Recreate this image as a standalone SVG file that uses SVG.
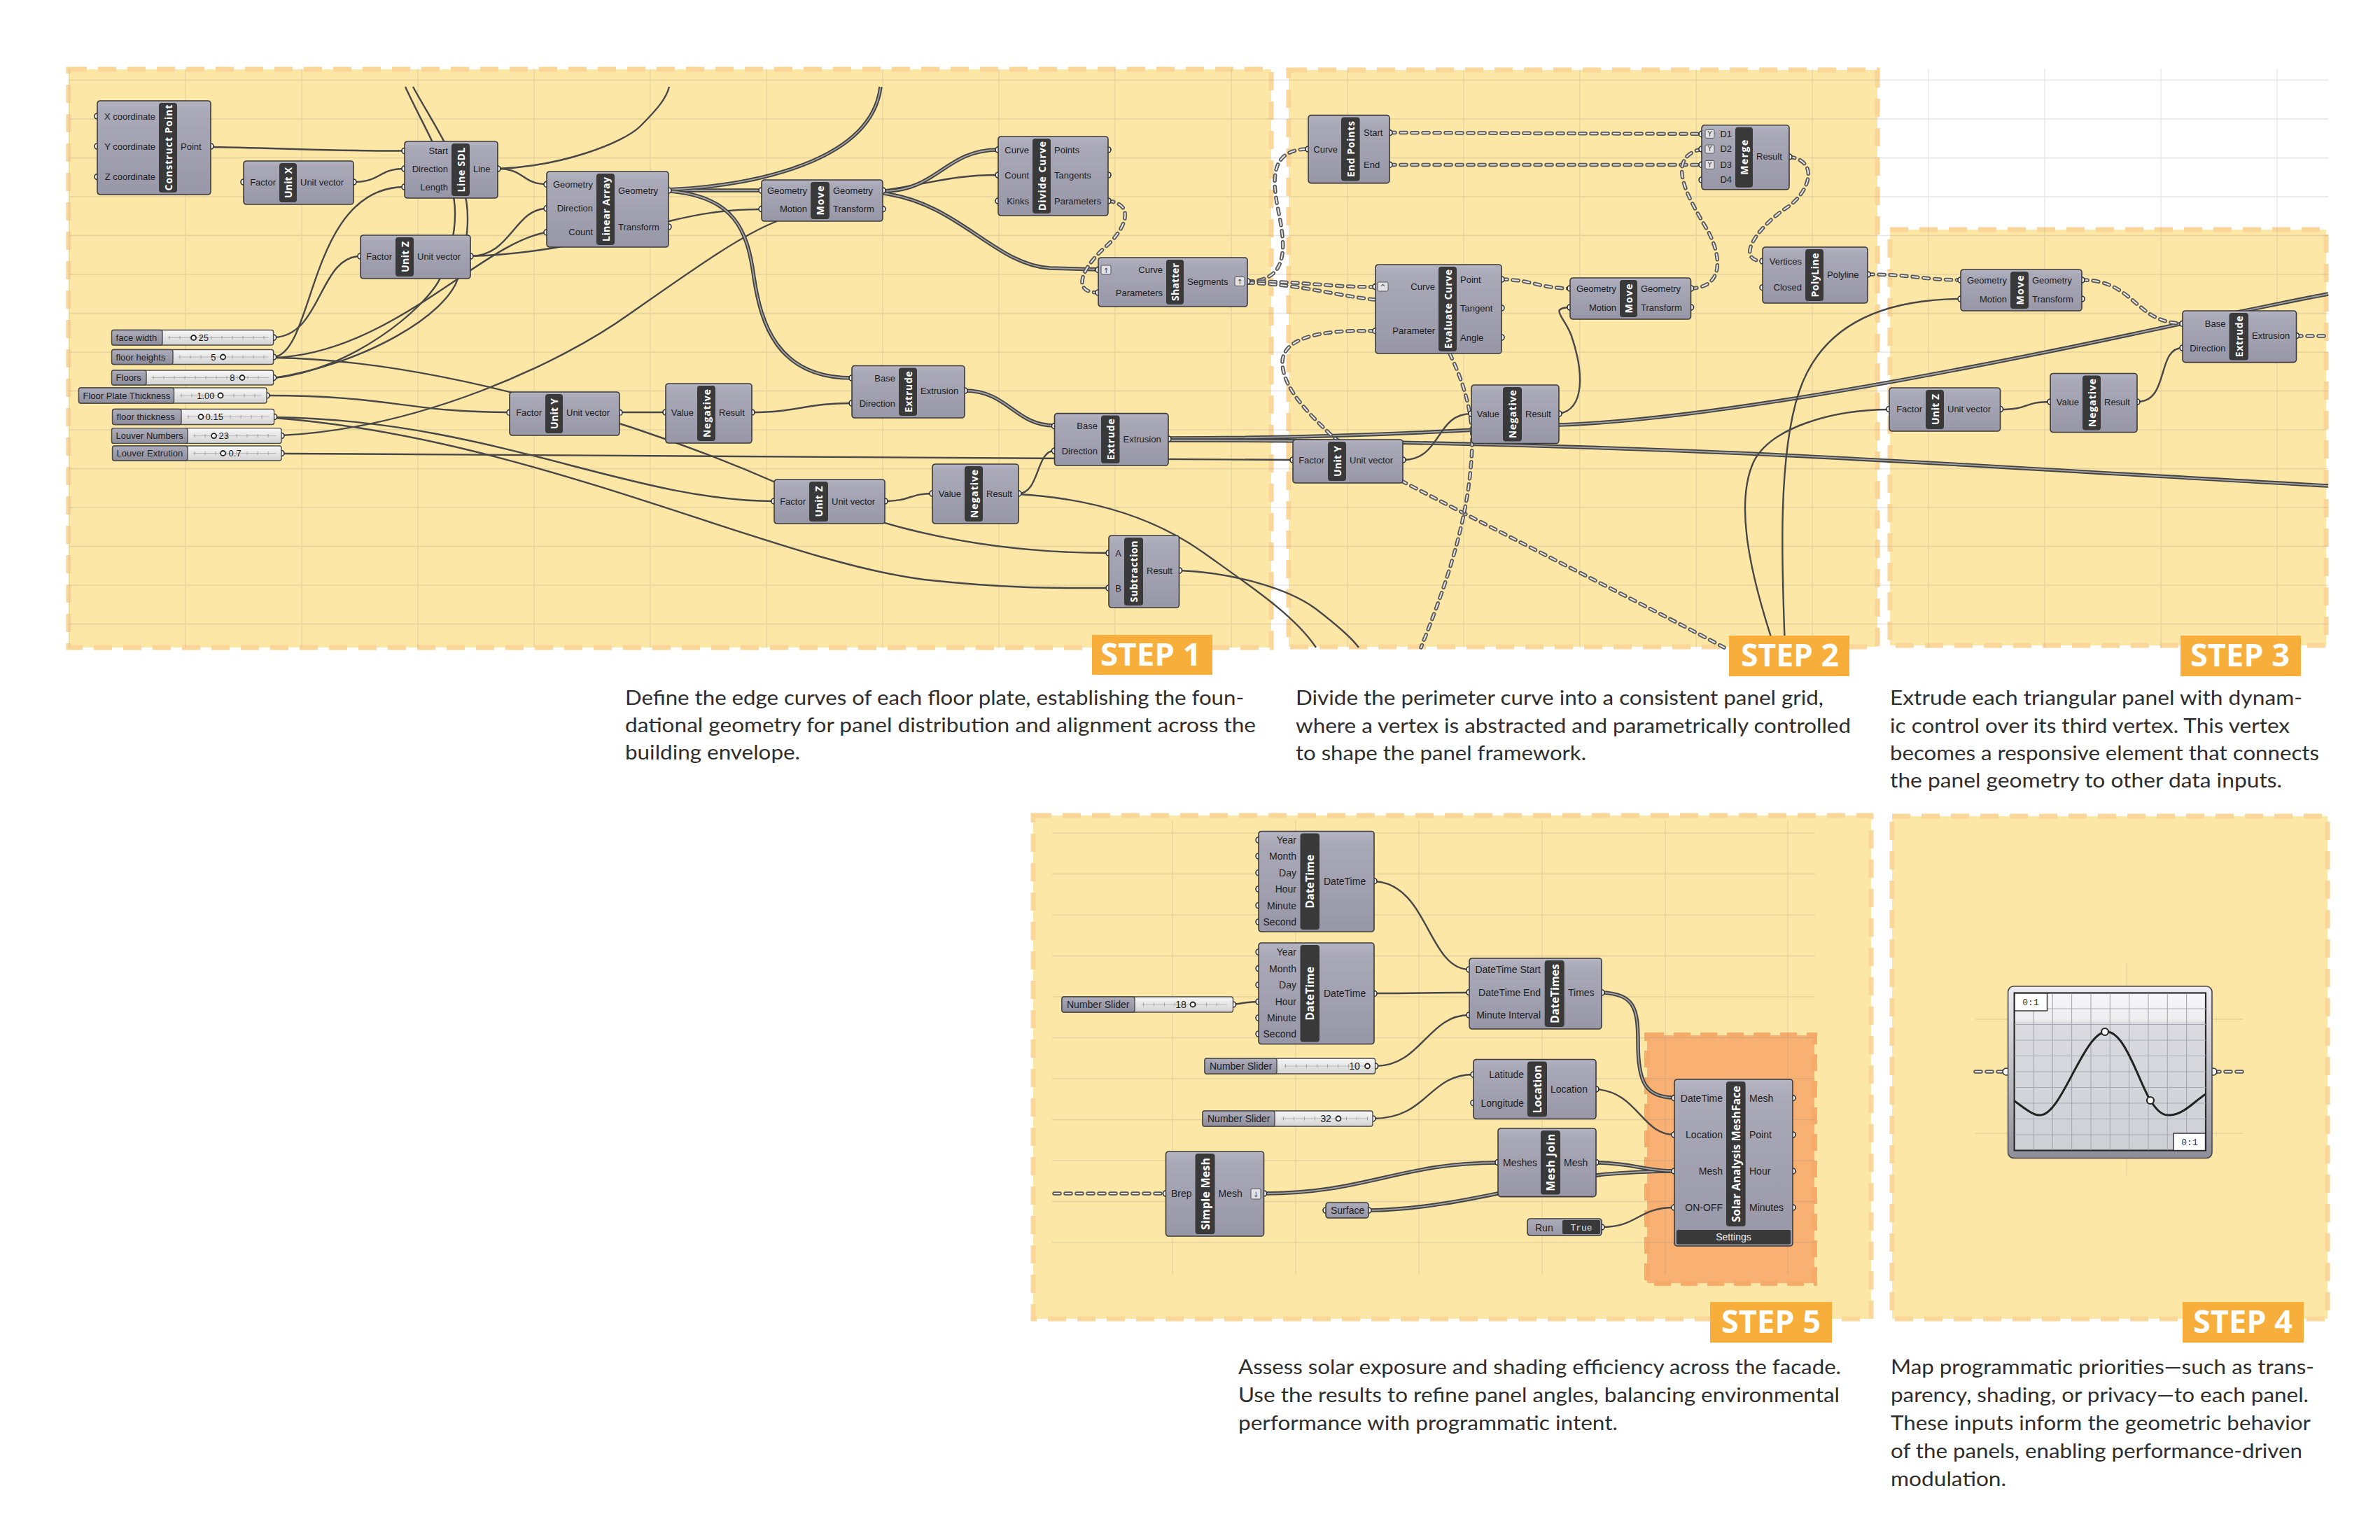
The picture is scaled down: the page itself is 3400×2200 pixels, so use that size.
<svg xmlns="http://www.w3.org/2000/svg" width="3400" height="2200" viewBox="0 0 3400 2200">
<defs>
<linearGradient id="gN" x1="0" y1="0" x2="0" y2="1"><stop offset="0" stop-color="#b4b4c2"/><stop offset="0.12" stop-color="#a9a9b8"/><stop offset="1" stop-color="#9797a7"/></linearGradient>
<linearGradient id="gS" x1="0" y1="0" x2="0" y2="1"><stop offset="0" stop-color="#adadbb"/><stop offset="1" stop-color="#8d8d9c"/></linearGradient>
<linearGradient id="gT" x1="0" y1="0" x2="0" y2="1"><stop offset="0" stop-color="#f8f8f8"/><stop offset="1" stop-color="#d3d3d3"/></linearGradient>
<linearGradient id="gG" x1="0" y1="0" x2="0" y2="1"><stop offset="0" stop-color="#ececf0"/><stop offset="1" stop-color="#8f8f9b"/></linearGradient>
<linearGradient id="gGi" x1="0" y1="0" x2="0" y2="1"><stop offset="0" stop-color="#f7f7f9"/><stop offset="0.17" stop-color="#eeeef1"/><stop offset="0.19" stop-color="#dadae0"/><stop offset="1" stop-color="#cfcfd6"/></linearGradient>
<style>
.pan{fill:#fde7a6;stroke:#fbd699;stroke-width:7;stroke-dasharray:26 16}
.pano{fill:#f8b073;stroke:#f7ab6a;stroke-width:8;stroke-dasharray:24 14}
.grid{fill:none;stroke:#8c8c8c;stroke-opacity:0.22;stroke-width:1.3}
.n{fill:url(#gN);stroke:#3b3b3b;stroke-width:1.6}
.b{fill:#393939}
.bt{font-family:"Open Sans","DejaVu Sans",sans-serif;font-weight:700;font-size:14px;fill:#fff;text-anchor:middle;dominant-baseline:central}
.bt5{font-size:16px}
.l{font-family:"Liberation Sans",Arial,sans-serif;font-size:13px;fill:#1c1c1c}
.l5{font-size:14px}
.le{text-anchor:end}
.p{fill:#fff;stroke:#2e2e2e;stroke-width:1.6}
.w{fill:none;stroke:#474747;stroke-width:2.4}
.wd{fill:none;stroke:#434343;stroke-width:5.5}
.wdi{fill:none;stroke:#a2a2a2;stroke-width:1.8}
.dd{fill:none;stroke:#565656;stroke-width:5.5;stroke-dasharray:8 8;stroke-linecap:round}
.ddi{fill:none;stroke:#e6e6e6;stroke-width:2;stroke-dasharray:8 8;stroke-linecap:round}
.st{fill:url(#gT);stroke:#4a4a4a;stroke-width:1.4}
.sn{fill:url(#gS);stroke:#4a4a4a;stroke-width:1.4}
.tb{stroke:#b5b5b5;stroke-width:1}
.tk{stroke:#a0a0a0;stroke-width:5;stroke-dasharray:1 14}
.kn{fill:#fff;stroke:#222;stroke-width:1.8}
.ic{fill:#e2e2e6;stroke:#555;stroke-width:1}
.it{font-family:"DejaVu Sans",sans-serif;font-size:10px;fill:#444;text-anchor:middle}
.stepb{fill:#f7ae3b}
.stept{font-family:"Open Sans","DejaVu Sans",sans-serif;font-weight:700;font-size:44px;fill:#fff;text-anchor:middle}
.desc{font-family:Lato,"Open Sans",sans-serif;font-size:29px;fill:#2e2e2e}
.mono{font-family:"Liberation Mono","DejaVu Sans Mono",monospace;font-size:13px;fill:#333}
</style>
</defs>
<rect width="3400" height="2200" fill="#ffffff"/>

<g id="panels">
<rect class="pan" x="98" y="99" width="1718" height="826"/>
<rect class="pan" x="1841" y="100" width="841" height="824"/>
<rect class="pan" x="2700" y="328" width="623" height="594"/>
<rect class="pan" x="1476" y="1165" width="1197" height="719"/>
<rect class="pan" x="2703" y="1166" width="622" height="718"/>
<rect class="pano" x="2353" y="1479" width="239" height="354"/>
</g>

<g id="grid">
<path class="grid" d="M99,98V926M265,98V926M431,98V926M597,98V926M763,98V926M929,98V926M1095,98V926M1261,98V926M1427,98V926M1593,98V926M1759,98V926M1925,98V926M2091,98V926M2257,98V926M2423,98V926M2589,98V926M2755,98V926M2921,98V926M3087,98V926M3253,98V926M98,114.5H3326M98,170H3326M98,225.5H3326M98,281H3326M98,336.5H3326M98,392H3326M98,447.5H3326M98,503H3326M98,558.5H3326M98,614H3326M98,669.5H3326M98,725H3326M98,780.5H3326M98,836H3326M98,891.5H3326"/>
<path class="grid" d="M1675,1172V1821M1851,1172V1821M2027,1172V1821M2203,1172V1821M2379,1172V1821M2554,1172V1821M1503,1190H2593M1503,1248.5H2593M1503,1307H2593M1503,1365.5H2593M1503,1424H2593M1503,1482.5H2593M1503,1541H2593M1503,1599.5H2593M1503,1658H2593M1503,1716.5H2593M1503,1775H2593"/>
<path class="grid" d="M2822,1456H3204M2822,1619H3204M3038,1376V1679" stroke-opacity="0.35"/>
</g>

<g id="connectors">
<path class="w" d="M301,210 C420,212 480,216 578,215.5"/>
<path class="w" d="M505,260 C545,260 540,241 578,241"/>
<path class="w" d="M391,482 C460,480 455,366 515,366"/>
<path class="w" d="M391,510 C450,505 440,268 578,267"/>
<path class="w" d="M391,511 C560,505 690,345 781,332"/>
<path class="w" d="M391,540 C500,530 610,440 630,395 C650,350 655,300 645,270 C630,220 600,170 579,124"/>
<path class="w" d="M391,540 C520,520 640,450 655,395 C670,340 672,300 662,270 C650,220 615,170 590,124"/>
<path class="w" d="M711,241 C750,241 745,263 781,263"/>
<path class="w" d="M711,241 C800,238 890,205 915,180 C940,155 952,140 956,124"/>
<path class="w" d="M672,366 C730,366 735,298 781,298"/>
<path class="w" d="M672,366 C800,362 900,330 960,315 C1010,303 1045,299 1088,299"/>
<path class="w" d="M402,622 C600,612 800,520 900,448 C990,385 1060,335 1110,316"/>
<path class="w" d="M1261,272 C1330,262 1360,250 1426,250"/>
<path class="w" d="M381,565 C560,565 580,589 728,589"/>
<path class="w" d="M391,511 C650,515 950,620 1110,690 C1200,730 1350,790 1584,790"/>
<path class="w" d="M392,596 C700,600 900,716 1106,716"/>
<path class="w" d="M392,597 C760,625 1100,800 1320,828 C1450,842 1520,840 1584,840"/>
<path class="w" d="M402,648 C900,650 1400,655 1847,657"/>
<path class="w" d="M885,589 L951,589"/>
<path class="w" d="M1074,589 C1140,589 1150,576 1217,576"/>
<path class="w" d="M1264,716 C1300,716 1300,705 1332,705"/>
<path class="w" d="M1455,705 C1485,705 1480,644 1506,644"/>
<path class="w" d="M1455,706 C1560,712 1650,740 1720,790 C1790,840 1850,880 1880,925"/>
<path class="w" d="M1685,815 C1760,818 1840,840 1880,870 C1910,893 1930,910 1941,925"/>
<path class="wd" d="M955,272 L1088,272"/><path class="wdi" d="M955,272 L1088,272"/>
<path class="wd" d="M955,271 C1080,265 1245,230 1258,124"/><path class="wdi" d="M955,271 C1080,265 1245,230 1258,124"/>
<path class="wd" d="M955,273 C1050,280 1068,330 1077,396 C1087,462 1110,540 1217,540"/><path class="wdi" d="M955,273 C1050,280 1068,330 1077,396 C1087,462 1110,540 1217,540"/>
<path class="wd" d="M1261,273 C1340,273 1350,214 1426,214"/><path class="wdi" d="M1261,273 C1340,273 1350,214 1426,214"/>
<path class="wd" d="M1261,276 C1370,290 1420,378 1500,383 L1569,385"/><path class="wdi" d="M1261,276 C1370,290 1420,378 1500,383 L1569,385"/>
<path class="wd" d="M1378,558 C1440,558 1450,608 1506,608"/><path class="wdi" d="M1378,558 C1440,558 1450,608 1506,608"/>
<path class="wd" d="M1669,626 C1800,626 2000,622 2227,607 C2450,600 2850,520 3118,462"/><path class="wdi" d="M1669,626 C1800,626 2000,622 2227,607 C2450,600 2850,520 3118,462"/>
<path class="wd" d="M1669,629 C1900,629 2200,635 2500,648 C2800,662 3100,682 3326,694"/><path class="wdi" d="M1669,629 C1900,629 2200,635 2500,648 C2800,662 3100,682 3326,694"/>
<path class="wd" d="M3150,455 C3220,442 3280,428 3326,420"/><path class="wdi" d="M3150,455 C3220,442 3280,428 3326,420"/>
<path class="dd" d="M1583,287 C1625,292 1605,330 1580,352 C1548,380 1528,418 1569,418"/><path class="ddi" d="M1583,287 C1625,292 1605,330 1580,352 C1548,380 1528,418 1569,418"/>
<path class="dd" d="M1782,402 C1845,402 1835,345 1826,300 C1817,255 1815,213 1869,213"/><path class="ddi" d="M1782,402 C1845,402 1835,345 1826,300 C1817,255 1815,213 1869,213"/>
<path class="dd" d="M1782,402 C1860,402 1900,410 1965,410"/><path class="ddi" d="M1782,402 C1860,402 1900,410 1965,410"/>
<path class="dd" d="M1782,404 C1860,406 1920,425 1966,428"/><path class="ddi" d="M1782,404 C1860,406 1920,425 1966,428"/>
<path class="dd" d="M1965,473 C1880,470 1830,485 1832,520 C1834,560 1880,600 1905,625 L2004,688 C2200,790 2380,880 2463,925"/><path class="ddi" d="M1965,473 C1880,470 1830,485 1832,520 C1834,560 1880,600 1905,625 L2004,688 C2200,790 2380,880 2463,925"/>
<path class="dd" d="M2071,505 C2090,545 2103,585 2103,630 C2102,740 2060,850 2030,925"/><path class="ddi" d="M2071,505 C2090,545 2103,585 2103,630 C2102,740 2060,850 2030,925"/>
<path class="dd" d="M1985,189.5 L2431,191.4"/><path class="ddi" d="M1985,189.5 L2431,191.4"/>
<path class="dd" d="M1985,235.4 L2431,235.4"/><path class="ddi" d="M1985,235.4 L2431,235.4"/>
<path class="dd" d="M2416,412 C2462,410 2460,368 2440,330 C2410,280 2378,225 2431,213"/><path class="ddi" d="M2416,412 C2462,410 2460,368 2440,330 C2410,280 2378,225 2431,213"/>
<path class="dd" d="M2145,399 C2190,400 2200,412 2243,412"/><path class="ddi" d="M2145,399 C2190,400 2200,412 2243,412"/>
<path class="dd" d="M2556,224 C2600,230 2585,275 2552,297 C2510,325 2478,372 2518,373"/><path class="ddi" d="M2556,224 C2600,230 2585,275 2552,297 C2510,325 2478,372 2518,373"/>
<path class="dd" d="M2668,392 C2730,392 2750,400 2801,400"/><path class="ddi" d="M2668,392 C2730,392 2750,400 2801,400"/>
<path class="dd" d="M2974,400 C3050,400 3050,462 3118,462"/><path class="ddi" d="M2974,400 C3050,400 3050,462 3118,462"/>
<path class="dd" d="M3280,480 L3324,480"/><path class="ddi" d="M3280,480 L3324,480"/>
<path class="w" d="M2227,591 C2265,585 2262,530 2245,480 C2235,452 2212,440 2243,439"/>
<path class="w" d="M2004,657 C2060,657 2050,591 2102,591"/>
<path class="w" d="M2535,925 C2500,820 2478,720 2505,660 C2530,610 2620,585 2699,585"/>
<path class="w" d="M2550,925 C2545,800 2540,650 2570,560 C2600,470 2680,428 2801,427"/>
<path class="w" d="M2857,585 C2900,585 2890,574 2929,574"/>
<path class="w" d="M3053,574 C3100,574 3080,497 3118,497"/>
<path class="w" d="M1963,1259 C2040,1262 2040,1385 2099,1385"/>
<path class="w" d="M1963,1419 C2030,1419 2040,1418 2099,1418"/>
<path class="w" d="M1761,1435 C1780,1433 1780,1431 1798,1431"/>
<path class="w" d="M1965,1523 C2030,1523 2040,1450 2099,1450"/>
<path class="w" d="M1961,1598 C2040,1598 2040,1535 2105,1535"/>
<path class="w" d="M2280,1556 C2340,1560 2345,1621 2392,1621"/>
<path class="w" d="M2288,1753 C2340,1753 2340,1725 2392,1725"/>
<path class="wd" d="M2288,1418 C2335,1420 2340,1440 2340,1490 C2340,1545 2350,1568 2392,1568"/><path class="wdi" d="M2288,1418 C2335,1420 2340,1440 2340,1490 C2340,1545 2350,1568 2392,1568"/>
<path class="wd" d="M1806,1705 C1950,1705 2000,1661 2140,1661"/><path class="wdi" d="M1806,1705 C1950,1705 2000,1661 2140,1661"/>
<path class="wd" d="M1955,1729 C2080,1728 2200,1685 2300,1677 C2340,1674 2360,1673 2392,1673"/><path class="wdi" d="M1955,1729 C2080,1728 2200,1685 2300,1677 C2340,1674 2360,1673 2392,1673"/>
<path class="wd" d="M2280,1661 C2330,1661 2350,1673 2392,1673"/><path class="wdi" d="M2280,1661 C2330,1661 2350,1673 2392,1673"/>
<path class="dd" d="M1506,1705 L1665,1705"/><path class="ddi" d="M1506,1705 L1665,1705"/>
<path class="dd" d="M2822,1531 L2865,1531"/><path class="ddi" d="M2822,1531 L2865,1531"/>
<path class="dd" d="M3163,1531 L3204,1531"/><path class="ddi" d="M3163,1531 L3204,1531"/>
</g>

<g id="nodes">
<g id="construct-point" transform="translate(139,144)">
<circle class="p" cx="0" cy="22" r="4"/><circle class="p" cx="0" cy="65" r="4"/><circle class="p" cx="0" cy="108.6" r="4"/><circle class="p" cx="162" cy="65" r="4"/>
<rect class="n" width="162" height="134" rx="4"/><rect class="b" x="88" y="3" width="26" height="128" rx="4"/>
<text class="bt" transform="translate(101,67) rotate(-90)" textLength="123">Construct Point</text>
<text class="l le" x="83" y="26.5">X coordinate</text><text class="l le" x="83" y="69.5">Y coordinate</text><text class="l le" x="83" y="113">Z coordinate</text>
<text class="l" x="119" y="69.5">Point</text>
</g>
<g id="unit-x" transform="translate(348,230)">
<circle class="p" cx="0" cy="30" r="4"/><circle class="p" cx="157" cy="30" r="4"/>
<rect class="n" width="157" height="62" rx="4"/><rect class="b" x="51" y="3" width="25" height="56" rx="4"/>
<text class="bt" transform="translate(63.5,31) rotate(-90)" textLength="44">Unit X</text>
<text class="l le" x="46" y="34.5">Factor</text><text class="l" x="81" y="34.5">Unit vector</text>
</g>
<g id="line-sdl" transform="translate(578,202)">
<circle class="p" cx="0" cy="13.5" r="4"/><circle class="p" cx="0" cy="39" r="4"/><circle class="p" cx="0" cy="65" r="4"/><circle class="p" cx="133" cy="39" r="4"/>
<rect class="n" width="133" height="81" rx="4"/><rect class="b" x="67" y="3" width="26" height="75" rx="4"/>
<text class="bt" transform="translate(80,40.5) rotate(-90)" textLength="64">Line SDL</text>
<text class="l le" x="62" y="18">Start</text><text class="l le" x="62" y="43.5">Direction</text><text class="l le" x="62" y="69.5">Length</text>
<text class="l" x="98" y="43.5">Line</text>
</g>
<g id="linear-array" transform="translate(781,245)">
<circle class="p" cx="0" cy="18.4" r="4"/><circle class="p" cx="0" cy="52.8" r="4"/><circle class="p" cx="0" cy="86.9" r="4"/><circle class="p" cx="174" cy="27" r="4"/><circle class="p" cx="174" cy="79" r="4"/>
<rect class="n" width="174" height="108" rx="4"/><rect class="b" x="71" y="3" width="26" height="102" rx="4"/>
<text class="bt" transform="translate(84,54) rotate(-90)" textLength="92">Linear Array</text>
<text class="l le" x="66" y="23">Geometry</text><text class="l le" x="66" y="57.3">Direction</text><text class="l le" x="66" y="91.4">Count</text>
<text class="l" x="102" y="31.5">Geometry</text><text class="l" x="102" y="83.5">Transform</text>
</g>
<g id="unit-z-1" transform="translate(515,336)">
<circle class="p" cx="0" cy="30" r="4"/><circle class="p" cx="157" cy="30" r="4"/>
<rect class="n" width="157" height="62" rx="4"/><rect class="b" x="50" y="3" width="26" height="56" rx="4"/>
<text class="bt" transform="translate(63,31) rotate(-90)" textLength="44">Unit Z</text>
<text class="l le" x="45" y="34.5">Factor</text><text class="l" x="81" y="34.5">Unit vector</text>
</g>
<g id="unit-y-1" transform="translate(728,560)">
<circle class="p" cx="0" cy="29.4" r="4"/><circle class="p" cx="157" cy="29.4" r="4"/>
<rect class="n" width="157" height="62" rx="4"/><rect class="b" x="51" y="3" width="25" height="56" rx="4"/>
<text class="bt" transform="translate(63.5,31) rotate(-90)" textLength="44">Unit Y</text>
<text class="l le" x="46" y="34">Factor</text><text class="l" x="81" y="34">Unit vector</text>
</g>
<g id="move-1" transform="translate(1088,257)">
<circle class="p" cx="0" cy="15" r="4"/><circle class="p" cx="0" cy="41.6" r="4"/><circle class="p" cx="173" cy="15" r="4"/><circle class="p" cx="173" cy="41.6" r="4"/>
<rect class="n" width="173" height="59" rx="4"/><rect class="b" x="70" y="3" width="27" height="53" rx="4"/>
<text class="bt" transform="translate(83.5,29.5) rotate(-90)" textLength="42">Move</text>
<text class="l le" x="65" y="19.5">Geometry</text><text class="l le" x="65" y="46">Motion</text>
<text class="l" x="102" y="19.5">Geometry</text><text class="l" x="102" y="46">Transform</text>
</g>
<g id="divide-curve" transform="translate(1426,195)">
<circle class="p" cx="0" cy="19" r="4"/><circle class="p" cx="0" cy="55" r="4"/><circle class="p" cx="0" cy="92" r="4"/><circle class="p" cx="157" cy="19" r="4"/><circle class="p" cx="157" cy="55" r="4"/><circle class="p" cx="157" cy="92" r="4"/>
<rect class="n" width="157" height="113" rx="4"/><rect class="b" x="49" y="3" width="26" height="107" rx="4"/>
<text class="bt" transform="translate(62,56.5) rotate(-90)" textLength="99">Divide Curve</text>
<text class="l le" x="44" y="23.5">Curve</text><text class="l le" x="44" y="59.5">Count</text><text class="l le" x="44" y="96.5">Kinks</text>
<text class="l" x="80" y="23.5">Points</text><text class="l" x="80" y="59.5">Tangents</text><text class="l" x="80" y="96.5">Parameters</text>
</g>
<g id="shatter" transform="translate(1569,368)">
<circle class="p" cx="0" cy="17.4" r="4"/><circle class="p" cx="0" cy="50" r="4"/><circle class="p" cx="213" cy="34" r="4"/>
<rect class="n" width="213" height="70" rx="4"/><rect class="b" x="97" y="3" width="25" height="64" rx="4"/>
<text class="bt" transform="translate(109.5,35) rotate(-90)" textLength="54">Shatter</text>
<rect class="ic" x="4" y="11" width="14" height="13" rx="2"/><text class="it" x="11" y="21.5">↑</text>
<rect class="ic" x="195" y="27.5" width="14" height="13" rx="2"/><text class="it" x="202" y="38">↑</text>
<text class="l le" x="92" y="22">Curve</text><text class="l le" x="92" y="54.5">Parameters</text>
<text class="l" x="127" y="38.5">Segments</text>
</g>
<g id="negative-1a" transform="translate(951,548)">
<circle class="p" cx="0" cy="41" r="4"/><circle class="p" cx="123" cy="41" r="4"/>
<rect class="n" width="123" height="85" rx="4"/><rect class="b" x="45" y="3" width="26" height="79" rx="4"/>
<text class="bt" transform="translate(58,42.5) rotate(-90)" textLength="69">Negative</text>
<text class="l le" x="40" y="45.5">Value</text><text class="l" x="76" y="45.5">Result</text>
</g>
<g id="extrude-1a" transform="translate(1217,522.5)">
<circle class="p" cx="0" cy="17.5" r="4"/><circle class="p" cx="0" cy="53.5" r="4"/><circle class="p" cx="161" cy="35.5" r="4"/>
<rect class="n" width="161" height="74.5" rx="4"/><rect class="b" x="67" y="3" width="26" height="68.5" rx="4"/>
<text class="bt" transform="translate(80,37.25) rotate(-90)" textLength="59">Extrude</text>
<text class="l le" x="62" y="22">Base</text><text class="l le" x="62" y="58">Direction</text><text class="l" x="98" y="40">Extrusion</text>
</g>
<g id="extrude-1b" transform="translate(1506.5,590.6)">
<circle class="p" cx="0" cy="18" r="4"/><circle class="p" cx="0" cy="53.4" r="4"/><circle class="p" cx="162.5" cy="36.4" r="4"/>
<rect class="n" width="162.5" height="74.4" rx="4"/><rect class="b" x="66.5" y="3" width="26.5" height="68.4" rx="4"/>
<text class="bt" transform="translate(79.75,37.2) rotate(-90)" textLength="59">Extrude</text>
<text class="l le" x="61.5" y="22.5">Base</text><text class="l le" x="61.5" y="58">Direction</text><text class="l" x="98" y="41">Extrusion</text>
</g>
<g id="unit-z-2" transform="translate(1106,685)">
<circle class="p" cx="0" cy="31" r="4"/><circle class="p" cx="158" cy="31" r="4"/>
<rect class="n" width="158" height="63" rx="4"/><rect class="b" x="50" y="3" width="27" height="57" rx="4"/>
<text class="bt" transform="translate(63.5,31.5) rotate(-90)" textLength="44">Unit Z</text>
<text class="l le" x="45" y="35.5">Factor</text><text class="l" x="82" y="35.5">Unit vector</text>
</g>
<g id="negative-1b" transform="translate(1332,663)">
<circle class="p" cx="0" cy="42" r="4"/><circle class="p" cx="123" cy="42" r="4"/>
<rect class="n" width="123" height="85" rx="4"/><rect class="b" x="46" y="3" width="26" height="79" rx="4"/>
<text class="bt" transform="translate(59,42.5) rotate(-90)" textLength="69">Negative</text>
<text class="l le" x="41" y="46.5">Value</text><text class="l" x="77" y="46.5">Result</text>
</g>
<g id="subtraction" transform="translate(1584,765)">
<circle class="p" cx="0" cy="25" r="4"/><circle class="p" cx="0" cy="75" r="4"/><circle class="p" cx="100.5" cy="50" r="4"/>
<rect class="n" width="100.5" height="103" rx="4"/><rect class="b" x="22" y="3" width="27" height="97" rx="4"/>
<text class="bt" transform="translate(35.5,51.5) rotate(-90)" textLength="88">Subtraction</text>
<text class="l le" x="18" y="29.5">A</text><text class="l le" x="18" y="79.5">B</text><text class="l" x="54" y="54.5">Result</text>
</g>
<g id="end-points" transform="translate(1869,164.6)">
<circle class="p" cx="0" cy="48.4" r="4"/><circle class="p" cx="116" cy="25" r="4"/><circle class="p" cx="116" cy="70.8" r="4"/>
<rect class="n" width="116" height="97" rx="4"/><rect class="b" x="47" y="3" width="26.6" height="91" rx="4"/>
<text class="bt" transform="translate(60.3,48.5) rotate(-90)" textLength="80">End Points</text>
<text class="l le" x="42" y="53">Curve</text><text class="l" x="79" y="29.5">Start</text><text class="l" x="79" y="75.3">End</text>
</g>
<g id="merge" transform="translate(2431,178.8)">
<circle class="p" cx="0" cy="12.6" r="4"/><circle class="p" cx="0" cy="34.2" r="4"/><circle class="p" cx="0" cy="56.6" r="4"/><circle class="p" cx="0" cy="78.2" r="4"/><circle class="p" cx="125" cy="45.2" r="4"/>
<rect class="n" width="125" height="92" rx="4"/><rect class="b" x="48" y="3" width="25" height="86" rx="4"/>
<text class="bt" transform="translate(60.5,46) rotate(-90)" textLength="50">Merge</text>
<rect class="ic" x="5" y="6.6" width="13" height="12" rx="2"/><text class="it" x="11.5" y="16">Y</text>
<rect class="ic" x="5" y="28.2" width="13" height="12" rx="2"/><text class="it" x="11.5" y="37.6">Y</text>
<rect class="ic" x="5" y="50.6" width="13" height="12" rx="2"/><text class="it" x="11.5" y="60">Y</text>
<text class="l le" x="43" y="17">D1</text><text class="l le" x="43" y="38.7">D2</text><text class="l le" x="43" y="61">D3</text><text class="l le" x="43" y="82.7">D4</text>
<text class="l" x="78" y="49.7">Result</text>
</g>
<g id="evaluate-curve" transform="translate(1965,378)">
<circle class="p" cx="0" cy="31.6" r="4"/><circle class="p" cx="0" cy="94.7" r="4"/><circle class="p" cx="180" cy="21" r="4"/><circle class="p" cx="180" cy="62" r="4"/><circle class="p" cx="180" cy="104" r="4"/>
<rect class="n" width="180" height="127" rx="4"/><rect class="b" x="90" y="3" width="26" height="121" rx="4"/>
<text class="bt" transform="translate(103,63.5) rotate(-90)" textLength="113">Evaluate Curve</text>
<rect class="ic" x="3" y="25" width="15" height="13" rx="2"/><text class="it" x="10.5" y="36">^</text>
<text class="l le" x="85" y="36">Curve</text><text class="l le" x="85" y="99">Parameter</text>
<text class="l" x="121" y="25.5">Point</text><text class="l" x="121" y="66.5">Tangent</text><text class="l" x="121" y="108.5">Angle</text>
</g>
<g id="move-2" transform="translate(2243,397)">
<circle class="p" cx="0" cy="15" r="4"/><circle class="p" cx="0" cy="42" r="4"/><circle class="p" cx="172.5" cy="15" r="4"/><circle class="p" cx="172.5" cy="42" r="4"/>
<rect class="n" width="172.5" height="59" rx="4"/><rect class="b" x="71" y="3" width="25" height="53" rx="4"/>
<text class="bt" transform="translate(83.5,29.5) rotate(-90)" textLength="42">Move</text>
<text class="l le" x="66" y="19.5">Geometry</text><text class="l le" x="66" y="46.5">Motion</text>
<text class="l" x="101" y="19.5">Geometry</text><text class="l" x="101" y="46.5">Transform</text>
</g>
<g id="polyline" transform="translate(2518,353)">
<circle class="p" cx="0" cy="20" r="4"/><circle class="p" cx="0" cy="57.7" r="4"/><circle class="p" cx="150" cy="39" r="4"/>
<rect class="n" width="150" height="80" rx="4"/><rect class="b" x="61" y="3" width="26" height="74" rx="4"/>
<text class="bt" transform="translate(74,40) rotate(-90)" textLength="63">PolyLine</text>
<text class="l le" x="56" y="24.5">Vertices</text><text class="l le" x="56" y="62">Closed</text><text class="l" x="92" y="43.5">Polyline</text>
</g>
<g id="negative-2" transform="translate(2102,550)">
<circle class="p" cx="0" cy="41" r="4"/><circle class="p" cx="125" cy="41" r="4"/>
<rect class="n" width="125" height="83.5" rx="4"/><rect class="b" x="45" y="3" width="27" height="77.5" rx="4"/>
<text class="bt" transform="translate(58.5,41.75) rotate(-90)" textLength="69">Negative</text>
<text class="l le" x="40" y="45.5">Value</text><text class="l" x="77" y="45.5">Result</text>
</g>
<g id="unit-y-2" transform="translate(1847,628)">
<circle class="p" cx="0" cy="29" r="4"/><circle class="p" cx="157" cy="29" r="4"/>
<rect class="n" width="157" height="62" rx="4"/><rect class="b" x="50" y="3" width="26" height="56" rx="4"/>
<text class="bt" transform="translate(63,31) rotate(-90)" textLength="44">Unit Y</text>
<text class="l le" x="45" y="33.5">Factor</text><text class="l" x="81" y="33.5">Unit vector</text>
</g>
<g id="move-3" transform="translate(2801,385)">
<circle class="p" cx="0" cy="15" r="4"/><circle class="p" cx="0" cy="42" r="4"/><circle class="p" cx="173" cy="15" r="4"/><circle class="p" cx="173" cy="42" r="4"/>
<rect class="n" width="173" height="59" rx="4"/><rect class="b" x="71" y="3" width="26" height="53" rx="4"/>
<text class="bt" transform="translate(84,29.5) rotate(-90)" textLength="42">Move</text>
<text class="l le" x="66" y="19.5">Geometry</text><text class="l le" x="66" y="46.5">Motion</text>
<text class="l" x="102" y="19.5">Geometry</text><text class="l" x="102" y="46.5">Transform</text>
</g>
<g id="extrude-3" transform="translate(3118,444)">
<circle class="p" cx="0" cy="18.4" r="4"/><circle class="p" cx="0" cy="53" r="4"/><circle class="p" cx="162.5" cy="35.6" r="4"/>
<rect class="n" width="162.5" height="73.6" rx="4"/><rect class="b" x="66.5" y="3" width="27.5" height="67.6" rx="4"/>
<text class="bt" transform="translate(80.25,36.8) rotate(-90)" textLength="59">Extrude</text>
<text class="l le" x="61.5" y="23">Base</text><text class="l le" x="61.5" y="57.5">Direction</text><text class="l" x="99" y="40">Extrusion</text>
</g>
<g id="unit-z-3" transform="translate(2699,554)">
<circle class="p" cx="0" cy="30.5" r="4"/><circle class="p" cx="158.5" cy="30.5" r="4"/>
<rect class="n" width="158.5" height="62" rx="4"/><rect class="b" x="52" y="3" width="26" height="56" rx="4"/>
<text class="bt" transform="translate(65,31) rotate(-90)" textLength="44">Unit Z</text>
<text class="l le" x="47" y="35">Factor</text><text class="l" x="83" y="35">Unit vector</text>
</g>
<g id="negative-3" transform="translate(2929,533.5)">
<circle class="p" cx="0" cy="40.5" r="4"/><circle class="p" cx="124" cy="40.5" r="4"/>
<rect class="n" width="124" height="84" rx="4"/><rect class="b" x="46" y="3" width="26" height="78" rx="4"/>
<text class="bt" transform="translate(59,42) rotate(-90)" textLength="69">Negative</text>
<text class="l le" x="41" y="45">Value</text><text class="l" x="77" y="45">Result</text>
</g>

<g id="slider-face-width" transform="translate(159.6,471.5)">
<circle class="p" cx="231" cy="10.75" r="4"/><rect class="st" width="231" height="21.5" rx="3"/><rect class="sn" width="72.4" height="21.5" rx="3"/>
<path class="tb" d="M80,11H224"/><path class="tk" d="M82,11H224"/><circle class="kn" cx="117" cy="11" r="3.5"/>
<text class="l" x="6" y="15.5">face width</text><text class="l" x="124" y="15.5">25</text>
</g>
<g id="slider-floor-heights" transform="translate(159.6,499.5)">
<circle class="p" cx="231" cy="10.5" r="4"/><rect class="st" width="231" height="21" rx="3"/><rect class="sn" width="87.4" height="21" rx="3"/>
<path class="tb" d="M95,10.5H224"/><path class="tk" d="M97,10.5H224"/><circle class="kn" cx="159" cy="10.5" r="3.5"/>
<text class="l" x="6" y="15">floor heights</text><text class="l le" x="149" y="15">5</text>
</g>
<g id="slider-floors" transform="translate(159.6,529)">
<circle class="p" cx="231" cy="10.5" r="4"/><rect class="st" width="231" height="21" rx="3"/><rect class="sn" width="49.4" height="21" rx="3"/>
<path class="tb" d="M57,10.5H224"/><path class="tk" d="M59,10.5H224"/><circle class="kn" cx="186.4" cy="10.5" r="3.5"/>
<text class="l" x="6" y="15">Floors</text><text class="l le" x="176" y="15">8</text>
</g>
<g id="slider-floor-plate-thickness" transform="translate(112.5,554)">
<circle class="p" cx="268.5" cy="11" r="4"/><rect class="st" width="268.5" height="22" rx="3"/><rect class="sn" width="136" height="22" rx="3"/>
<path class="tb" d="M144,11H261"/><path class="tk" d="M146,11H261"/><circle class="kn" cx="202.5" cy="11" r="3.5"/>
<text class="l" x="6" y="15.5">Floor Plate Thickness</text><text class="l le" x="194" y="15.5">1.00</text>
</g>
<g id="slider-floor-thickness" transform="translate(160.6,584.5)">
<circle class="p" cx="231" cy="11" r="4"/><rect class="st" width="231" height="22" rx="3"/><rect class="sn" width="98.4" height="22" rx="3"/>
<path class="tb" d="M106,11H224"/><path class="tk" d="M108,11H224"/><circle class="kn" cx="126.4" cy="11" r="3.5"/>
<text class="l" x="6" y="15.5">floor thickness</text><text class="l" x="133" y="15.5">0.15</text>
</g>
<g id="slider-louver-numbers" transform="translate(159.6,611.6)">
<circle class="p" cx="242.4" cy="10.9" r="4"/><rect class="st" width="242.4" height="21.8" rx="3"/><rect class="sn" width="108.4" height="21.8" rx="3"/>
<path class="tb" d="M116,11H235"/><path class="tk" d="M118,11H235"/><circle class="kn" cx="146" cy="11" r="3.5"/>
<text class="l" x="6" y="15.5">Louver Numbers</text><text class="l" x="153" y="15.5">23</text>
</g>
<g id="slider-louver-extrution" transform="translate(160.6,637)">
<circle class="p" cx="241.4" cy="10.5" r="4"/><rect class="st" width="241.4" height="21" rx="3"/><rect class="sn" width="107.4" height="21" rx="3"/>
<path class="tb" d="M115,10.5H234"/><path class="tk" d="M117,10.5H234"/><circle class="kn" cx="158" cy="10.5" r="3.5"/>
<text class="l" x="6" y="15">Louver Extrution</text><text class="l" x="166" y="15">0.7</text>
</g>

<g id="datetime-1" transform="translate(1798,1187.5)">
<circle class="p" cx="0" cy="12.5" r="4"/><circle class="p" cx="0" cy="35.5" r="4"/><circle class="p" cx="0" cy="59.3" r="4"/><circle class="p" cx="0" cy="82.5" r="4"/><circle class="p" cx="0" cy="106" r="4"/><circle class="p" cx="0" cy="129.5" r="4"/><circle class="p" cx="165" cy="71.2" r="4"/>
<rect class="n" width="165" height="143.5" rx="4"/><rect class="b" x="59.5" y="3" width="27.5" height="137.5" rx="4"/>
<text class="bt bt5" transform="translate(73.25,71.75) rotate(-90)" textLength="77">DateTime</text>
<text class="l l5 le" x="54" y="17.5">Year</text><text class="l l5 le" x="54" y="40.5">Month</text><text class="l l5 le" x="54" y="64.3">Day</text><text class="l l5 le" x="54" y="87.5">Hour</text><text class="l l5 le" x="54" y="111">Minute</text><text class="l l5 le" x="54" y="134.5">Second</text>
<text class="l l5" x="93" y="76.2">DateTime</text>
</g>
<g id="datetime-2" transform="translate(1798,1347)">
<circle class="p" cx="0" cy="13" r="4"/><circle class="p" cx="0" cy="36.6" r="4"/><circle class="p" cx="0" cy="60" r="4"/><circle class="p" cx="0" cy="84" r="4"/><circle class="p" cx="0" cy="107" r="4"/><circle class="p" cx="0" cy="130" r="4"/><circle class="p" cx="165" cy="72.4" r="4"/>
<rect class="n" width="165" height="144.5" rx="4"/><rect class="b" x="59.5" y="3" width="27.5" height="138.5" rx="4"/>
<text class="bt bt5" transform="translate(73.25,72.25) rotate(-90)" textLength="77">DateTime</text>
<text class="l l5 le" x="54" y="18">Year</text><text class="l l5 le" x="54" y="41.6">Month</text><text class="l l5 le" x="54" y="65">Day</text><text class="l l5 le" x="54" y="89">Hour</text><text class="l l5 le" x="54" y="112">Minute</text><text class="l l5 le" x="54" y="135">Second</text>
<text class="l l5" x="93" y="77.4">DateTime</text>
</g>
<g id="slider-18" transform="translate(1517,1424)">
<circle class="p" cx="244.5" cy="11" r="4"/><rect class="st" width="244.5" height="22" rx="3"/><rect class="sn" width="104" height="22" rx="3"/>
<path class="tb" d="M114,11H236"/><path class="tk" d="M116,11H236"/><circle class="kn" cx="187" cy="11" r="3.5"/>
<text class="l l5" x="7" y="16">Number Slider</text><text class="l l5" x="170" y="16" text-anchor="middle">18</text>
</g>
<g id="slider-10" transform="translate(1721,1512)">
<circle class="p" cx="243.6" cy="11" r="4"/><rect class="st" width="243.6" height="22" rx="3"/><rect class="sn" width="103" height="22" rx="3"/>
<path class="tb" d="M113,11H236"/><path class="tk" d="M115,11H236"/><circle class="kn" cx="232.5" cy="11" r="3.5"/>
<text class="l l5" x="7" y="16">Number Slider</text><text class="l l5" x="214" y="16" text-anchor="middle">10</text>
</g>
<g id="slider-32" transform="translate(1718,1587)">
<circle class="p" cx="243" cy="11" r="4"/><rect class="st" width="243" height="22" rx="3"/><rect class="sn" width="103" height="22" rx="3"/>
<path class="tb" d="M113,11H236"/><path class="tk" d="M115,11H236"/><circle class="kn" cx="194" cy="11" r="3.5"/>
<text class="l l5" x="7" y="16">Number Slider</text><text class="l l5" x="176" y="16" text-anchor="middle">32</text>
</g>
<g id="simple-mesh" transform="translate(1665.5,1645)">
<circle class="p" cx="0" cy="60" r="4"/><circle class="p" cx="140" cy="60" r="4"/>
<rect class="n" width="140" height="121" rx="4"/><rect class="b" x="42" y="3" width="28" height="115" rx="4"/>
<text class="bt bt5" transform="translate(56,60.5) rotate(-90)" textLength="103">Simple Mesh</text>
<rect class="ic" x="121.5" y="53" width="14" height="15" rx="2"/><text class="it" x="128.5" y="64.5">↓</text>
<text class="l l5 le" x="37" y="65">Brep</text><text class="l l5" x="75" y="65">Mesh</text>
</g>
<g id="surface" transform="translate(1894,1718)">
<circle class="p" cx="0" cy="11" r="4"/><circle class="p" cx="61" cy="11" r="4"/>
<rect class="n" width="61" height="22" rx="4"/><text class="l l5" x="7" y="16">Surface</text>
</g>
<g id="datetimes" transform="translate(2099,1369)">
<circle class="p" cx="0" cy="16" r="4"/><circle class="p" cx="0" cy="48.6" r="4"/><circle class="p" cx="0" cy="81" r="4"/><circle class="p" cx="189" cy="49" r="4"/>
<rect class="n" width="189" height="101" rx="4"/><rect class="b" x="107.7" y="3" width="28" height="95" rx="4"/>
<text class="bt bt5" transform="translate(121.7,50.5) rotate(-90)" textLength="85">DateTimes</text>
<text class="l l5 le" x="102" y="21">DateTime Start</text><text class="l l5 le" x="102" y="53.6">DateTime End</text><text class="l l5 le" x="102" y="86">Minute Interval</text>
<text class="l l5" x="141" y="54">Times</text>
</g>
<g id="location" transform="translate(2105,1513.5)">
<circle class="p" cx="0" cy="21.5" r="4"/><circle class="p" cx="0" cy="62" r="4"/><circle class="p" cx="175" cy="42.5" r="4"/>
<rect class="n" width="175" height="85" rx="4"/><rect class="b" x="77" y="3" width="28" height="79" rx="4"/>
<text class="bt bt5" transform="translate(91,42.5) rotate(-90)" textLength="69">Location</text>
<text class="l l5 le" x="72" y="26.5">Latitude</text><text class="l l5 le" x="72" y="67">Longitude</text><text class="l l5" x="110" y="47.5">Location</text>
</g>
<g id="mesh-join" transform="translate(2140,1612)">
<circle class="p" cx="0" cy="48.5" r="4"/><circle class="p" cx="140" cy="48.5" r="4"/>
<rect class="n" width="140" height="97.6" rx="4"/><rect class="b" x="61" y="3" width="28" height="91.6" rx="4"/>
<text class="bt bt5" transform="translate(75,48.8) rotate(-90)" textLength="82">Mesh Join</text>
<text class="l l5 le" x="56" y="53.5">Meshes</text><text class="l l5" x="94" y="53.5">Mesh</text>
</g>
<g id="run-toggle" transform="translate(2182,1741)">
<circle class="p" cx="106" cy="12" r="4"/>
<rect class="n" width="106" height="24" rx="4"/><rect class="b" x="50" y="2" width="54" height="20" rx="2"/>
<text class="l l5" x="11" y="17.5">Run</text><text class="mono" x="77" y="16.5" text-anchor="middle" style="fill:#e2e2e2">True</text>
</g>
<g id="solar-analysis" transform="translate(2392,1542)">
<circle class="p" cx="0" cy="26.6" r="4"/><circle class="p" cx="0" cy="79" r="4"/><circle class="p" cx="0" cy="131" r="4"/><circle class="p" cx="0" cy="183" r="4"/>
<circle class="p" cx="169" cy="26.6" r="4"/><circle class="p" cx="169" cy="79" r="4"/><circle class="p" cx="169" cy="131" r="4"/><circle class="p" cx="169" cy="183" r="4"/>
<rect class="n" width="169" height="238" rx="4"/><rect class="b" x="74" y="3" width="27.6" height="207" rx="4"/>
<text class="bt bt5" transform="translate(87.8,106.5) rotate(-90)" textLength="195">Solar Analysis MeshFace</text>
<text class="l l5 le" x="69" y="31.6">DateTime</text><text class="l l5 le" x="69" y="84">Location</text><text class="l l5 le" x="69" y="136">Mesh</text><text class="l l5 le" x="69" y="188">ON-OFF</text>
<text class="l l5" x="107" y="31.6">Mesh</text><text class="l l5" x="107" y="84">Point</text><text class="l l5" x="107" y="136">Hour</text><text class="l l5" x="107" y="188">Minutes</text>
<rect class="b" x="3" y="215" width="163" height="20.5" rx="2"/>
<text class="l l5" x="84.5" y="230" text-anchor="middle" style="fill:#f0f0f0">Settings</text>
</g>

<g id="graph-mapper">
<circle class="p" cx="2866" cy="1531" r="5"/><circle class="p" cx="3162" cy="1531" r="5"/>
<rect x="2868.6" y="1409" width="291.4" height="245.5" rx="8" fill="url(#gG)" stroke="#4a4a4a" stroke-width="1.6"/>
<rect x="2877.6" y="1418.5" width="273.4" height="225" fill="url(#gGi)" stroke="#2a2a2a" stroke-width="2.2"/>
<path d="M2905,1419V1643M2932.3,1419V1643M2959.6,1419V1643M2987,1419V1643M3014.3,1419V1643M3041.6,1419V1643M3069,1419V1643M3096.3,1419V1643M3123.6,1419V1643M2878,1441H3151M2878,1463.5H3151M2878,1486H3151M2878,1508.5H3151M2878,1531H3151M2878,1553.5H3151M2878,1576H3151M2878,1598.5H3151M2878,1621H3151" fill="none" stroke="#a9a9b3" stroke-width="1.1"/>
<rect x="2878" y="1419" width="46.5" height="25" fill="#fff" stroke="#2a2a2a" stroke-width="1.4"/>
<text class="mono" x="2901" y="1436" text-anchor="middle">0:1</text>
<rect x="3105" y="1619" width="45.5" height="24.5" fill="#fff" stroke="#2a2a2a" stroke-width="1.4"/>
<text class="mono" x="3128" y="1636" text-anchor="middle">0:1</text>
<path d="M2878,1573 C2895,1585 2905,1594 2915,1593 C2945,1592 2975,1480 3007,1474 C3035,1470 3055,1545 3072,1572 C3082,1588 3090,1594 3100,1593 C3120,1592 3135,1573 3151,1563" fill="none" stroke="#222" stroke-width="3"/>
<circle cx="3007" cy="1474" r="5" fill="#fff" stroke="#222" stroke-width="2.2"/>
<circle cx="3072" cy="1572" r="5" fill="#fff" stroke="#222" stroke-width="2.2"/>
</g>
</g>

<g id="step-labels">
<rect class="stepb" x="1560" y="907" width="172" height="57"/><text class="stept" x="1644" y="951" textLength="144" lengthAdjust="spacingAndGlyphs">STEP 1</text>
<rect class="stepb" x="2470" y="908" width="172" height="58"/><text class="stept" x="2557" y="952" textLength="140" lengthAdjust="spacingAndGlyphs">STEP 2</text>
<rect class="stepb" x="3115" y="908" width="172" height="58"/><text class="stept" x="3200" y="952" textLength="142" lengthAdjust="spacingAndGlyphs">STEP 3</text>
<rect class="stepb" x="2443" y="1860" width="174" height="58"/><text class="stept" x="2530" y="1904" textLength="142" lengthAdjust="spacingAndGlyphs">STEP 5</text>
<rect class="stepb" x="3118" y="1860" width="173" height="58"/><text class="stept" x="3204" y="1904" textLength="142" lengthAdjust="spacingAndGlyphs">STEP 4</text>
</g>

<g id="descriptions">
<text class="desc" x="893" y="1007" textLength="884" lengthAdjust="spacingAndGlyphs">Define the edge curves of each floor plate, establishing the foun-</text>
<text class="desc" x="893" y="1046" textLength="901" lengthAdjust="spacingAndGlyphs">dational geometry for panel distribution and alignment across the</text>
<text class="desc" x="893" y="1085" textLength="250" lengthAdjust="spacingAndGlyphs">building envelope.</text>
<text class="desc" x="1851" y="1007" textLength="754" lengthAdjust="spacingAndGlyphs">Divide the perimeter curve into a consistent panel grid,</text>
<text class="desc" x="1851" y="1047" textLength="793" lengthAdjust="spacingAndGlyphs">where a vertex is abstracted and parametrically controlled</text>
<text class="desc" x="1851" y="1086" textLength="415" lengthAdjust="spacingAndGlyphs">to shape the panel framework.</text>
<text class="desc" x="2700" y="1007" textLength="589" lengthAdjust="spacingAndGlyphs">Extrude each triangular panel with dynam-</text>
<text class="desc" x="2700" y="1047" textLength="571" lengthAdjust="spacingAndGlyphs">ic control over its third vertex. This vertex</text>
<text class="desc" x="2700" y="1086" textLength="613" lengthAdjust="spacingAndGlyphs">becomes a responsive element that connects</text>
<text class="desc" x="2700" y="1125" textLength="560" lengthAdjust="spacingAndGlyphs">the panel geometry to other data inputs.</text>
<text class="desc" x="1769" y="1963" textLength="861" lengthAdjust="spacingAndGlyphs">Assess solar exposure and shading efficiency across the facade.</text>
<text class="desc" x="1769" y="2003" textLength="859" lengthAdjust="spacingAndGlyphs">Use the results to refine panel angles, balancing environmental</text>
<text class="desc" x="1769" y="2043" textLength="542" lengthAdjust="spacingAndGlyphs">performance with programmatic intent.</text>
<text class="desc" x="2701" y="1963" textLength="605" lengthAdjust="spacingAndGlyphs">Map programmatic priorities—such as trans-</text>
<text class="desc" x="2701" y="2003" textLength="597" lengthAdjust="spacingAndGlyphs">parency, shading, or privacy—to each panel.</text>
<text class="desc" x="2701" y="2043" textLength="600" lengthAdjust="spacingAndGlyphs">These inputs inform the geometric behavior</text>
<text class="desc" x="2701" y="2083" textLength="588" lengthAdjust="spacingAndGlyphs">of the panels, enabling performance-driven</text>
<text class="desc" x="2701" y="2123" textLength="165" lengthAdjust="spacingAndGlyphs">modulation.</text>
</g>
</svg>
